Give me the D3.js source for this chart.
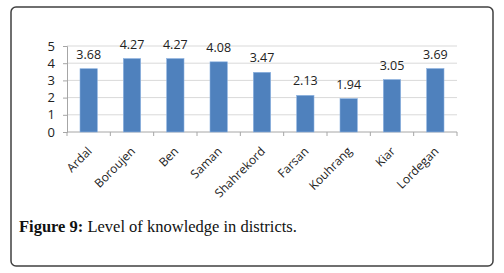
<!DOCTYPE html>
<html>
<head>
<meta charset="utf-8">
<script src="https://cdn.jsdelivr.net/npm/d3@7"></script>
<style>
  body { margin: 0; background: #fff; }
  svg { display: block; }
</style>
</head>
<body>
<div id="chart"></div>
<script>
// Level of knowledge in districts
const districts = ["Ardal", "Boroujen", "Ben", "Saman", "Shahrekord", "Farsan", "Kouhrang", "Kiar", "Lordegan"];
const knowledge = [3.68, 4.27, 4.27, 4.08, 3.47, 2.13, 1.94, 3.05, 3.69];
const yTicks = [0, 1, 2, 3, 4, 5];

const W = 504, H = 273;
const plot = { left: 67, right: 457, top: 46, bottom: 132 };

const svg = d3.select("#chart").append("svg")
    .attr("width", W)
    .attr("height", H);

// outer frame
svg.append("rect")
    .attr("x", 11).attr("y", 7)
    .attr("width", 482).attr("height", 259)
    .attr("rx", 5)
    .attr("fill", "#fff")
    .attr("stroke", "#404040")
    .attr("stroke-width", 1.5);

const x = d3.scaleBand()
    .domain(districts)
    .range([plot.left, plot.right])
    .paddingInner(0.6)
    .paddingOuter(0.3);

const y = d3.scaleLinear().domain([0, 5]).range([plot.bottom, plot.top]);

// gridlines
svg.append("g")
    .selectAll("line")
    .data(yTicks.filter(d => d > 0))
    .join("line")
    .attr("x1", plot.left).attr("x2", plot.right)
    .attr("y1", d => y(d)).attr("y2", d => y(d))
    .attr("stroke", "#d9d9d9")
    .attr("stroke-width", 1);

// y axis
const yAxis = svg.append("g")
    .attr("transform", `translate(${plot.left},0)`)
    .call(d3.axisLeft(y).tickValues(yTicks).tickSize(4).tickFormat(d3.format("d")));
yAxis.select(".domain").attr("stroke", "#a6a6a6");
yAxis.selectAll(".tick line").attr("stroke", "#a6a6a6");
yAxis.selectAll("text")
    .attr("font-family", "'Open Sans', sans-serif")
    .attr("font-size", 13)
    .attr("fill", "#222")
    .attr("x", -12);

// x axis with ticks at band boundaries
svg.append("line")
    .attr("x1", plot.left).attr("x2", plot.right)
    .attr("y1", plot.bottom).attr("y2", plot.bottom)
    .attr("stroke", "#a6a6a6");
svg.append("g")
    .selectAll("line")
    .data(d3.range(districts.length + 1))
    .join("line")
    .attr("x1", i => plot.left + i * x.step())
    .attr("x2", i => plot.left + i * x.step())
    .attr("y1", plot.bottom).attr("y2", plot.bottom + 4)
    .attr("stroke", "#a6a6a6");

// bars
svg.append("g")
    .selectAll("rect")
    .data(districts)
    .join("rect")
    .attr("x", d => x(d))
    .attr("y", (d, i) => y(knowledge[i]))
    .attr("width", x.bandwidth())
    .attr("height", (d, i) => y(0) - y(knowledge[i]))
    .attr("fill", "#4f81bd")
    .attr("stroke", "#8db3e2")
    .attr("stroke-width", 0.6);

// value labels
svg.append("g")
    .selectAll("text")
    .data(districts)
    .join("text")
    .attr("x", d => x(d) + x.bandwidth() / 2)
    .attr("y", (d, i) => y(knowledge[i]) - 10)
    .attr("text-anchor", "middle")
    .attr("font-family", "'Open Sans', sans-serif")
    .attr("font-size", 12.5)
    .attr("fill", "#222")
    .text((d, i) => knowledge[i].toFixed(2));

// category labels, rotated
svg.append("g")
    .selectAll("text")
    .data(districts)
    .join("text")
    .attr("transform", d => `translate(${x(d) + x.bandwidth() / 2 + 4},${plot.bottom + 20}) rotate(-45)`)
    .attr("text-anchor", "end")
    .attr("font-family", "'Open Sans', sans-serif")
    .attr("font-size", 12)
    .attr("fill", "#222")
    .text(d => d);

// caption
const cap = svg.append("text")
    .attr("x", 19).attr("y", 232)
    .attr("font-family", "'Liberation Serif', serif")
    .attr("font-size", 16.5)
    .attr("fill", "#111");
cap.append("tspan").attr("font-weight", "bold").text("Figure 9:");
cap.append("tspan").text(" Level of knowledge in districts.");
</script>
</body>
</html>
